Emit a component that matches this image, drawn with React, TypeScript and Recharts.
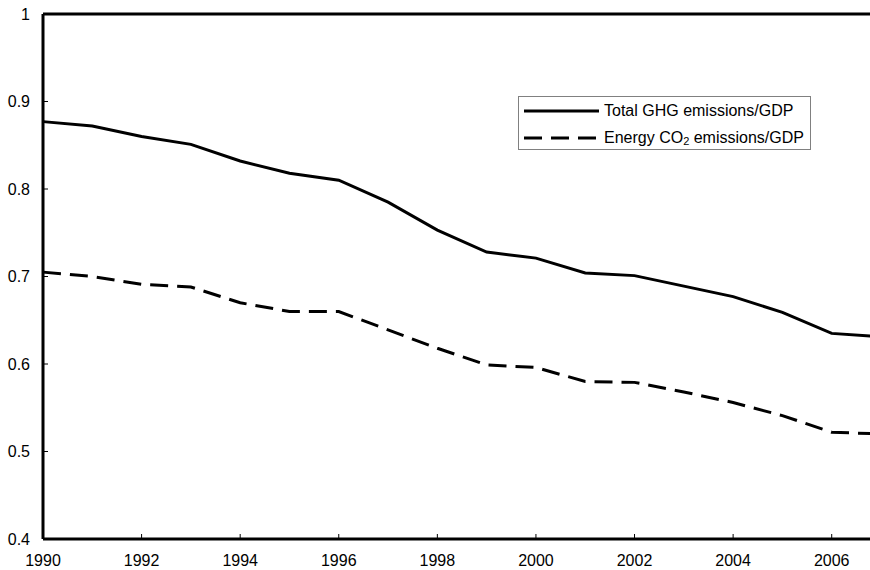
import { LineChart, Line, XAxis, YAxis, ReferenceLine } from "recharts";

const years = [1990, 1991, 1992, 1993, 1994, 1995, 1996, 1997, 1998, 1999, 2000, 2001, 2002, 2003, 2004, 2005, 2006, 2007];
const totalGhg = [0.877, 0.872, 0.86, 0.851, 0.832, 0.818, 0.81, 0.785, 0.753, 0.728, 0.721, 0.704, 0.701, 0.689, 0.677, 0.659, 0.635, 0.631];
const energyCo2 = [0.705, 0.7, 0.691, 0.688, 0.67, 0.66, 0.66, 0.639, 0.618, 0.599, 0.596, 0.58, 0.579, 0.568, 0.556, 0.541, 0.522, 0.52];
const xTicks = [1990, 1992, 1994, 1996, 1998, 2000, 2002, 2004, 2006];
const yTicks = [0.4, 0.5, 0.6, 0.7, 0.8, 0.9, 1];

const data = years.map((year, i) => ({ year, total: totalGhg[i], energy: energyCo2[i] }));

const FONT = "'Liberation Sans', Arial, sans-serif";

function XTick({ x, y, payload }: any) {
  const first = payload.value === 1990;
  return (
    <g>
      {!first && <line x1={x} x2={x} y1={y} y2={y - 5} stroke="#000" strokeWidth={1} />}
      <text x={x} y={y + 21} textAnchor="middle" dominantBaseline="central" fontSize={16} fill="#000" fontFamily={FONT}>
        {payload.value}
      </text>
    </g>
  );
}

function YTick({ x, y, payload }: any) {
  return (
    <g>
      <line x1={x} x2={x + 5} y1={y} y2={y} stroke="#000" strokeWidth={1} />
      <text x={x - 13} y={y} textAnchor="end" dominantBaseline="central" fontSize={16} fill="#000" fontFamily={FONT}>
        {String(payload.value)}
      </text>
    </g>
  );
}

function LegendBox() {
  const row = (dash: string | undefined, label: React.ReactNode) => (
    <div style={{ display: "flex", alignItems: "center", height: 27 }}>
      <svg width={80} height={10} style={{ marginLeft: 5 }}>
        <line x1={0} x2={75} y1={5} y2={5} stroke="#000" strokeWidth={3} strokeDasharray={dash} />
      </svg>
      <span style={{ fontSize: 16, color: "#000", whiteSpace: "nowrap" }}>{label}</span>
    </div>
  );
  return (
    <div
      style={{
        position: "absolute",
        left: 518,
        top: 96,
        width: 293,
        height: 54,
        border: "1px solid #808080",
        background: "#fff",
        fontFamily: FONT,
        boxSizing: "border-box",
      }}
    >
      {row(undefined, "Total GHG emissions/GDP")}
      {row("18 9", <>Energy CO<sub style={{ fontSize: 11, verticalAlign: "-2px" }}>2</sub> emissions/GDP</>)}
    </div>
  );
}

export default function App() {
  return (
    <div style={{ position: "absolute", left: 0, top: 0, width: 870, height: 570, overflow: "hidden", background: "#fff" }}>
      <LineChart width={884} height={570} data={data} margin={{ top: 14, right: 3, left: 0, bottom: 0 }}>
        <XAxis
          dataKey="year"
          type="number"
          domain={[1990, 2007]}
          ticks={xTicks}
          interval={0}
          tickSize={0}
          tickMargin={0}
          height={31}
          axisLine={{ stroke: "#000", strokeWidth: 3 }}
          tick={<XTick />}
        />
        <YAxis
          type="number"
          domain={[0.4, 1]}
          ticks={yTicks}
          interval={0}
          tickSize={0}
          tickMargin={0}
          width={43}
          axisLine={{ stroke: "#000", strokeWidth: 3 }}
          tick={<YTick />}
        />
        <ReferenceLine y={1} stroke="#000" strokeWidth={3} />
        <Line
          dataKey="total"
          type="linear"
          stroke="#000"
          strokeWidth={3}
          dot={false}
          isAnimationActive={false}
        />
        <Line
          dataKey="energy"
          type="linear"
          stroke="#000"
          strokeWidth={3}
          strokeDasharray="18 9"
          dot={false}
          isAnimationActive={false}
        />
      </LineChart>
      <LegendBox />
    </div>
  );
}
